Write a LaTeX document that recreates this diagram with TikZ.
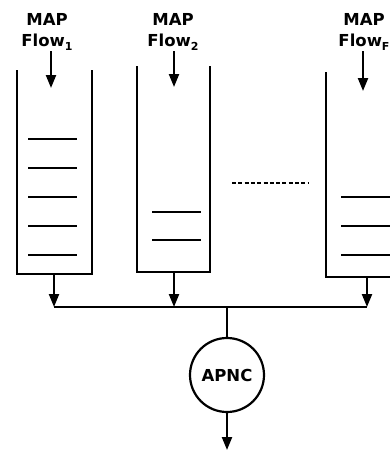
\documentclass[tikz,border=0pt]{standalone}
\usepackage{fontspec}
\setmainfont{DejaVu Sans}
\usetikzlibrary{arrows.meta}
\newcommand{\flowsub}[1]{\raisebox{-0.2em}{\fontsize{11}{11}\selectfont #1}}
\tikzset{
  arr/.style={-{Triangle[width=10pt,length=13pt]}},
  label/.style={align=center,inner sep=0pt,font=\bfseries\fontsize{16.5}{21}\selectfont},
  level/.style={line width=2pt},
}
\begin{document}
\begin{tikzpicture}[x=1pt,y=-1pt,line width=2.2pt]
    \clip (0,0) rectangle (390,450);
    % tanks
    \draw (17,70) |- (92,274) -- (92,70);
    \draw (137,66) |- (210,272) -- (210,66);
    \draw (326,72) |- (400,277) -- (400,72);
    \foreach \y in {139,168,197,226,255} \draw[level] (28,\y) -- (77,\y);
    \foreach \y in {212,240} \draw[level] (152,\y) -- (201,\y);
    \foreach \y in {197,226,255} \draw[level] (341,\y) -- (390,\y);
    \draw[line width=1.6pt,dash pattern=on 4pt off 2.3pt] (232,183) -- (308,183);
    % inputs
    \node[label] (lab1) at (47,32) {MAP\\Flow\flowsub{1}};
    \node[label] (lab2) at (173,32) {MAP\\Flow\flowsub{2}};
    \node[label] (lab3) at (364,32) {MAP\\Flow\flowsub{F}};
    \coordinate (in1) at (51,88);
    \coordinate (in2) at (174,87);
    \coordinate (in3) at (363,91);
    \draw[arr] (in1 |- lab1.south) -- (in1);
    \draw[arr] (in2 |- lab2.south) -- (in2);
    \draw[arr] (in3 |- lab3.south) -- (in3);
    % outputs to bus
    \coordinate (out1) at (54,274);
    \coordinate (out2) at (174,272);
    \coordinate (out3) at (367,277);
    \coordinate (bus1) at (54,307);
    \coordinate (bus2) at (174,307);
    \coordinate (bus3) at (367,307);
    \coordinate (join) at (227,307);
    \draw[arr] (out1) -- (bus1);
    \draw[arr] (out2) -- (bus2);
    \draw[arr] (out3) -- (bus3);
    \draw (bus1) -- (bus3);
    \node[draw,circle,minimum size=74pt,inner sep=0pt,font=\bfseries\fontsize{16.5}{19}\selectfont] (apnc) at (227,375) {APNC};
    \coordinate (exit) at (227,450);
    \draw (join) -- (apnc);
    \draw[arr] (apnc) -- (exit);
\end{tikzpicture}
\end{document}
